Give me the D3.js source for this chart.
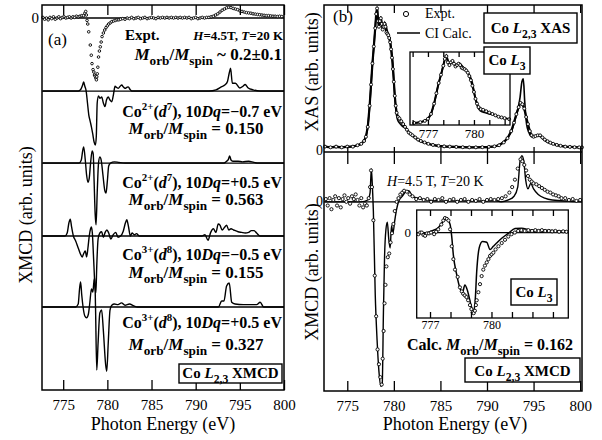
<!DOCTYPE html>
<html>
<head>
<meta charset="utf-8">
<script src="https://cdn.jsdelivr.net/npm/d3@7"></script>
<style>
  body { margin: 0; background: #fff; }
  svg, svg text { font-family: "Liberation Serif", Tinos, "Times New Roman", Times, "DejaVu Serif", serif !important; }
  svg text { fill: #000; white-space: pre; }
</style>
</head>
<body>
<div id="chart"></div>
<script>
// ---------- data (energy eV, intensity arb. units) ----------
const energyTicks = [775, 780, 785, 790, 795, 800];

// panel (a): experiment + four CI calculations (each on its own offset baseline)
const exptA = [
  [772.7,0.01],[772.9,-0.02],[773.1,0],[773.3,-0.03],[773.5,0.01],[773.7,-0.01],[773.9,0.02],[774.1,-0.02],
  [774.3,0],[774.5,0.02],[774.7,-0.01],[774.9,0.01],[775.1,0.02],[775.3,0],[775.5,0.01],[775.7,0.02],
  [775.9,0],[776.1,0.02],[776.3,0.01],[776.5,0.03],[776.7,0.02],[776.9,0.03],[777.1,0.04],[777.3,0.04],
  [777.45,0.08],[777.55,0.11],[777.62,0.05],[777.7,-0.04],[777.78,-0.1],[777.89,-0.23],[778.07,-0.45],
  [778.18,-0.62],[778.26,-0.76],[778.38,-0.86],[778.47,-0.9],[778.55,-0.95],[778.62,-0.97],[778.7,-1.0],
  [778.76,-1.03],[778.8,-0.98],[778.86,-0.93],[778.92,-0.82],[779.0,-0.65],[779.1,-0.55],[779.2,-0.48],
  [779.3,-0.4],[779.4,-0.31],[779.55,-0.25],[779.7,-0.2],[779.85,-0.16],[780.0,-0.13],[780.15,-0.1],
  [780.33,-0.08],[780.5,-0.06],[780.7,-0.05],[780.9,-0.04],[781.1,-0.03],[781.3,-0.03],[781.5,-0.02],
  [781.75,-0.01],[782.0,-0.02],[782.25,0],[782.5,-0.01],[782.75,0.01],[783.0,-0.01],[783.25,0],[783.5,0.01],
  [783.75,-0.01],[784.0,0],[784.25,0.01],[784.5,-0.01],[784.75,0],[785.0,0.01],[785.25,0],[785.5,-0.01],
  [785.75,0.01],[786.0,0],[786.25,0.01],[786.5,0],[786.75,0.01],[787.0,0],[787.25,0.01],[787.5,0],
  [787.75,0.01],[788.0,0],[788.25,0.01],[788.5,0],[788.75,0.01],[789.0,0],[789.25,0.01],[789.5,-0.01],
  [789.75,0],[790.0,0.01],[790.25,-0.01],[790.5,0],[790.75,0.01],[791.0,0],[791.25,0.01],[791.5,0.01],
  [791.75,0.02],[792.0,0.03],[792.25,0.05],[792.5,0.07],[792.75,0.1],[793.0,0.13],[793.25,0.15],
  [793.5,0.17],[793.75,0.18],[794.0,0.175],[794.25,0.16],[794.5,0.15],[794.75,0.14],[795.0,0.12],
  [795.25,0.11],[795.5,0.1],[795.75,0.09],[796.0,0.085],[796.25,0.08],[796.5,0.07],[796.75,0.065],
  [797.0,0.06],[797.25,0.055],[797.5,0.05],[797.75,0.045],[798.0,0.04],[798.25,0.04],[798.5,0.035],
  [798.75,0.03],[799.0,0.03],[799.25,0.025],[799.5,0.03],[799.75,0.025]
];
const calcA1 = [
  [772.7,0],[776.7,0],[777.0,0.03],[777.2,0.1],[777.32,0.15],[777.45,0.08],[777.6,0],[777.75,-0.2],
  [777.9,-0.4],[778.05,-0.5],[778.2,-0.6],[778.35,-0.72],[778.5,-0.85],[778.65,-0.9],[778.75,-0.75],
  [778.85,-0.2],[779.0,-0.08],[779.15,-0.12],[779.36,-0.1],[779.55,-0.2],[779.73,-0.26],[779.9,-0.15],
  [780.1,-0.1],[780.3,-0.15],[780.5,-0.18],[780.7,-0.05],[780.87,0.08],[781.05,0.06],[781.24,0.045],
  [781.45,0.08],[781.63,0.1],[781.8,0.07],[782.0,0.045],[782.2,0.06],[782.37,0.07],[782.55,0.03],
  [782.76,0],[791.5,0],[792.3,0.02],[792.9,0.07],[793.3,0.1],[793.6,0.16],[793.8,0.3],[793.95,0.38],
  [794.15,0.13],[794.5,0.13],[795.0,0.05],[795.35,0.08],[795.6,0.11],[795.95,0.05],[796.5,0.02],
  [797.3,0],[800,0]
];
const calcA2 = [
  [772.7,0],[776.8,0],[777.05,0.05],[777.2,0.2],[777.32,0.27],[777.5,0.05],[777.65,-0.2],[777.8,-0.32],
  [777.95,-0.25],[778.1,0],[778.28,0.2],[778.4,0.15],[778.5,-0.3],[778.62,-0.85],[778.72,-1.03],
  [778.85,-0.5],[779.0,0],[779.15,0.1],[779.3,0.05],[779.5,-0.2],[779.7,-0.45],[779.85,-0.5],[780.0,-0.3],
  [780.15,-0.05],[780.35,0],[780.8,0.02],[781.3,0.01],[782,0],[793.2,0],[793.5,0.03],[793.7,0.06],
  [793.85,0.12],[794.0,0.05],[794.2,0.03],[794.8,0.03],[795.3,0.02],[796.0,0.03],[796.6,0.01],[797.2,0],[800,0]
];
const calcA3 = [
  [772.7,0],[775.2,0],[775.45,0.05],[775.65,0.22],[775.8,0.28],[775.95,0.15],[776.15,0],[776.4,-0.08],
  [776.7,-0.2],[776.95,-0.3],[777.15,-0.35],[777.3,-0.3],[777.5,-0.25],[777.65,-0.35],[777.8,-0.2],
  [777.95,0],[778.1,0.12],[778.2,0.15],[778.3,0.05],[778.45,-0.4],[778.6,-0.85],[778.7,-0.95],[778.8,-0.5],
  [778.95,-0.05],[779.15,0.05],[779.35,0.07],[779.55,-0.02],[779.75,0.06],[779.95,0.1],[780.15,0.05],
  [780.4,-0.05],[780.65,0.02],[780.95,0.06],[781.2,-0.02],[781.5,0],[781.8,0.08],[782.05,0.22],
  [782.2,0.27],[782.4,0.15],[782.6,0],[782.8,0.05],[783.05,0.02],[783.3,0.04],[783.6,0],[790.7,0],
  [791.05,0.02],[791.4,-0.07],[791.7,0.06],[792.0,0.12],[792.3,0.06],[792.55,0.2],[792.75,0.18],
  [793.0,0.1],[793.25,0.14],[793.5,0.18],[793.75,0.1],[794.0,0.12],[794.3,0.1],[794.8,0.07],[795.2,0.06],
  [795.6,0.05],[796.0,0.06],[796.3,0.09],[796.6,0.09],[796.9,0.05],[797.3,0],[800,0]
];
const calcA4 = [
  [772.7,0],[776.4,0],[776.7,0.05],[776.85,0.3],[776.97,0.42],[777.1,0.2],[777.25,0],[777.45,-0.15],
  [777.65,-0.18],[777.85,-0.12],[778.0,0.05],[778.2,0.3],[778.35,0.25],[778.5,0.45],[778.58,0.48],
  [778.66,0],[778.8,-1.05],[778.95,-0.6],[779.15,-0.1],[779.35,-0.05],[779.55,-0.4],[779.8,-0.95],
  [779.93,-1.07],[780.1,-0.6],[780.3,-0.05],[780.5,0.03],[780.8,0.05],[781.2,0.04],[781.6,0.07],
  [782.0,0.03],[782.5,0.05],[783.0,0.02],[783.4,0],[792.57,0],[792.95,0.1],[793.2,0.1],[793.5,0.35],
  [793.8,0.4],[794.08,0.08],[794.46,0.05],[795.4,0.04],[796.9,0.04],[797.3,0.08],[797.7,0],[800,0]
];
const offsetsA = [0, -1.217, -2.417, -3.633, -4.817];

// panel (b) top: XAS
const xasCalc = [
  [772.6,0.01],[773.5,0.005],[774.5,0.005],[775.5,0.01],[776.0,0.015],[776.5,0.03],[777.0,0.08],
  [777.25,0.18],[777.45,0.34],[777.65,0.55],[777.9,0.76],[778.05,0.9],[778.2,1.0],[778.4,0.87],
  [778.6,0.93],[778.8,0.85],[779.05,0.89],[779.3,0.83],[779.5,0.79],[779.7,0.72],[779.9,0.6],
  [780.05,0.42],[780.2,0.28],[780.4,0.2],[780.7,0.17],[781.0,0.15],[781.3,0.14],[781.7,0.1],[782.1,0.08],
  [782.6,0.055],[783.3,0.035],[784.2,0.02],[785.5,0.01],[787.0,0.005],[788.5,0.005],[790.0,0.005],
  [791.0,0.015],[791.7,0.04],[792.3,0.08],[792.7,0.13],[793.0,0.2],[793.3,0.27],[793.55,0.36],
  [793.75,0.47],[793.9,0.49],[794.05,0.33],[794.25,0.17],[794.5,0.11],[794.8,0.08],[795.1,0.08],
  [795.4,0.09],[795.7,0.085],[796.0,0.065],[796.4,0.045],[797.0,0.03],[797.8,0.015],[798.7,0.008],
  [799.5,0.005],[800.2,0.005]
];
const xasExpt = [
  [772.6,0.01],[773.2,0.005],[773.8,0.01],[774.4,0.005],[775.0,0.01],[775.6,0.01],[776.1,0.02],[776.5,0.03],
  [776.8,0.05],[777.0,0.08],[777.2,0.15],[777.4,0.3],[777.55,0.45],[777.7,0.6],[777.85,0.72],[778.0,0.85],
  [778.1,0.95],[778.2,0.99],[778.3,0.9],[778.4,0.86],[778.5,0.9],[778.6,0.92],[778.7,0.88],[778.8,0.84],
  [778.9,0.86],[779.0,0.88],[779.1,0.86],[779.2,0.82],[779.3,0.81],[779.4,0.8],[779.5,0.78],[779.6,0.75],
  [779.7,0.7],[779.8,0.64],[779.9,0.56],[780.0,0.47],[780.1,0.37],[780.2,0.3],[780.3,0.25],[780.45,0.22],
  [780.6,0.21],[780.8,0.19],[781.0,0.17],[781.2,0.15],[781.4,0.13],[781.6,0.11],[781.8,0.1],[782.0,0.09],
  [782.3,0.075],[782.6,0.06],[782.9,0.05],[783.3,0.04],[783.7,0.03],[784.2,0.022],[784.8,0.016],
  [785.4,0.012],[786.0,0.01],[786.7,0.008],[787.4,0.006],[788.1,0.005],[788.8,0.005],[789.5,0.006],
  [790.2,0.008],[790.8,0.012],[791.3,0.02],[791.8,0.04],[792.2,0.07],[792.6,0.12],[792.9,0.18],
  [793.15,0.24],[793.4,0.29],[793.6,0.32],[793.8,0.31],[794.0,0.28],[794.2,0.22],[794.4,0.17],
  [794.6,0.12],[794.8,0.09],[795.0,0.08],[795.2,0.085],[795.45,0.09],[795.7,0.09],[795.95,0.075],
  [796.2,0.06],[796.5,0.048],[796.8,0.038],[797.1,0.03],[797.5,0.022],[797.9,0.016],[798.4,0.01],
  [798.9,0.008],[799.4,0.006],[799.9,0.005],[800.2,0.005]
];

// panel (b) bottom: XMCD
const mcdCalc = [
  [772.6,0],[776.5,0],[777.2,0.01],[777.45,0.05],[777.58,0.18],[777.68,0.1],[777.8,-0.05],[778.0,-0.5],
  [778.2,-0.75],[778.4,-0.92],[778.6,-1.0],[778.75,-0.99],[778.88,-0.6],[779.0,-0.3],[779.15,-0.15],
  [779.3,-0.11],[779.45,-0.2],[779.6,-0.25],[779.75,-0.13],[779.9,-0.17],[780.1,-0.1],[780.3,-0.04],
  [780.5,0],[780.9,0.03],[781.3,0.055],[781.6,0.06],[782.0,0.03],[783,0.015],[785,0.005],[788,0.005],
  [791,0.005],[791.5,0],[792.3,0.01],[792.9,0.03],[793.3,0.08],[793.55,0.22],[793.75,0.25],[793.95,0.22],
  [794.15,0.12],[794.4,0.07],[794.7,0.1],[795.0,0.07],[795.5,0.04],[796.2,0.02],[797,0.01],[800.2,0]
];
const mcdExpt = [
  [772.7,0.015],[772.9,-0.02],[773.1,0.02],[773.3,-0.04],[773.5,0.01],[773.7,0.03],[773.9,-0.02],[774.1,0.02],
  [774.3,-0.03],[774.5,0.015],[774.7,0.035],[774.9,0],[775.1,0.02],[775.3,-0.01],[775.5,0.03],[775.7,0.015],
  [775.9,0.04],[776.1,0.01],[776.3,-0.02],[776.5,0.02],[776.7,-0.03],[776.9,-0.01],[777.1,-0.02],
  [777.3,0.02],[777.45,0.08],[777.55,0.17],[777.65,0.08],[777.8,-0.1],[777.95,-0.4],[778.1,-0.62],
  [778.25,-0.8],[778.4,-0.88],[778.55,-0.95],[778.7,-0.99],[778.8,-0.85],[778.9,-0.7],[779.0,-0.55],
  [779.1,-0.45],[779.2,-0.35],[779.35,-0.3],[779.5,-0.28],[779.65,-0.22],[779.8,-0.17],[779.95,-0.12],
  [780.1,-0.05],[780.3,0],[780.5,0.02],[780.7,0.04],[780.9,0.05],[781.1,0.06],[781.4,0.055],[781.7,0.04],
  [782.0,0.03],[782.4,0.015],[782.8,0.02],[783.2,0.01],[783.6,0.015],[784.0,0],[784.4,0.015],[784.8,0.01],
  [785.2,0.02],[785.6,0],[786.0,0.01],[786.4,0.015],[786.8,0],[787.2,0.01],[787.6,0.015],[788.0,0],
  [788.4,0.01],[788.8,0.005],[789.2,0.015],[789.6,0],[790.0,0.01],[790.4,0.015],[790.8,0.01],[791.2,0.015],
  [791.6,0.02],[792.0,0.03],[792.4,0.05],[792.7,0.08],[793.0,0.12],[793.3,0.18],[793.6,0.23],[793.8,0.22],
  [794.0,0.2],[794.2,0.17],[794.4,0.14],[794.6,0.12],[794.8,0.11],[795.0,0.1],[795.3,0.095],[795.6,0.085],
  [795.9,0.075],[796.2,0.065],[796.5,0.055],[796.8,0.05],[797.1,0.04],[797.4,0.035],[797.7,0.03],
  [798.0,0.02],[798.4,0.02],[798.8,0.01],[799.2,0.015],[799.6,0.005],[800.0,0.01]
];

// insets (Co L3 region)
const insetXasTicks = [776, 777, 778, 779, 780, 781, 782];
const insetXasLabels = [777, 780];
const insetMcdTicks = [777, 778, 779, 780, 781, 782, 783];
const insetMcdLabels = [777, 780];
const insetMcdCalc = [
  [776.43,-0.01],[776.76,-0.01],[777.08,0.02],[777.4,0.06],[777.65,0.14],[777.81,0.17],[777.98,0.1],
  [778.06,-0.05],[778.14,-0.28],[778.3,-0.52],[778.46,-0.69],[778.58,-0.75],[778.7,-0.65],[778.84,-0.73],
  [779.0,-0.9],[779.11,-0.98],[779.2,-0.86],[779.28,-0.48],[779.4,-0.19],[779.56,-0.11],[779.77,-0.12],
  [779.93,-0.21],[780.09,-0.17],[780.25,-0.13],[780.5,-0.07],[780.82,-0.01],[781.15,0.05],[781.47,0.055],
  [781.96,0.03],[782.6,0.03],[783.25,0.02],[783.66,0.02]
];
const insetMcdExpt = [
  [776.43,-0.02],[776.52,0],[776.6,0],[776.68,-0.03],[776.76,-0.04],[776.85,-0.01],[776.95,-0.01],
  [777.05,0],[777.2,-0.02],[777.3,0.01],[777.4,0.04],[777.55,0.1],[777.65,0.15],[777.73,0.18],
  [777.82,0.17],[777.9,0.15],[777.98,0.04],[778.06,-0.17],[778.14,-0.33],[778.22,-0.46],[778.35,-0.55],
  [778.46,-0.68],[778.55,-0.73],[778.62,-0.76],[778.7,-0.78],[778.78,-0.8],[778.86,-0.84],[778.95,-0.9],
  [779.02,-0.95],[779.08,-0.99],[779.13,-1.0],[779.19,-0.97],[779.24,-0.9],[779.28,-0.84],[779.36,-0.74],
  [779.44,-0.64],[779.52,-0.54],[779.6,-0.46],[779.68,-0.41],[779.77,-0.37],[779.85,-0.33],[779.93,-0.29],
  [780.01,-0.27],[780.09,-0.25],[780.2,-0.21],[780.34,-0.17],[780.5,-0.13],[780.66,-0.09],[780.82,-0.05],
  [780.98,-0.02],[781.14,0],[781.3,0.02],[781.46,0.03],[781.62,0.02],[781.8,0.03],[781.98,0.02],
  [782.14,0.03],[782.3,0.02],[782.46,0.03],[782.62,0.02],[782.8,0.02],[782.96,0.015],[783.12,0.02],
  [783.3,0.01],[783.5,0.015],[783.66,0.01]
];

// ---------- drawing ----------
const FONT = '"Liberation Serif", Tinos, "Times New Roman", Times, "DejaVu Serif", serif';
const svg = d3.select("#chart").append("svg").attr("width", 602).attr("height", 440)
  .attr("font-family", FONT);

function rich(g, x, y, parts, o) {
  const t = g.append("text").attr("x", x).attr("y", y).attr("font-family", FONT)
    .attr("font-size", o.size).attr("font-weight", o.bold ? "bold" : "normal")
    .attr("text-anchor", o.anchor || "start");
  let cur = 0;
  parts.forEach(([s, f = ""]) => {
    let off = 0, fs = o.size;
    if (f.includes("_")) { off = o.size * 0.3; fs = o.size * 0.78; }
    if (f.includes("^")) { off = -o.size * 0.42; fs = o.size * 0.68; }
    t.append("tspan").attr("dy", off - cur).attr("font-size", fs)
      .attr("font-style", f.includes("i") ? "italic" : null).text(s);
    cur = off;
  });
  return t;
}

function frame(g, x0, y0, x1, y1, w) {
  g.append("rect").attr("x", x0).attr("y", y0).attr("width", x1 - x0).attr("height", y1 - y0)
    .attr("fill", "none").attr("stroke", "#000").attr("stroke-width", w || 1.5);
}

function ticks(g, scale, y, len, vals, labels, fsize, pad) {
  const ax = (len < 0 ? d3.axisBottom(scale) : d3.axisTop(scale))
    .tickValues(vals).tickSizeInner(-Math.abs(len)).tickSizeOuter(0).tickPadding(pad || 6)
    .tickFormat(d => labels && labels.includes(d) ? d : "");
  const a = g.append("g").attr("transform", `translate(0,${y})`).call(ax);
  a.attr("font-family", FONT);
  a.select(".domain").remove();
  a.selectAll(".tick line").attr("stroke", "#000").attr("stroke-width", 1.3);
  a.selectAll(".tick text").attr("font-size", fsize || 15).attr("fill", "#000");
  return a;
}

function boxLabel(g, x0, y0, x1, y1, parts, size, ty) {
  g.append("rect").attr("x", x0).attr("y", y0).attr("width", x1 - x0).attr("height", y1 - y0)
    .attr("fill", "#fff").attr("stroke", "#000").attr("stroke-width", 1.4);
  rich(g, (x0 + x1) / 2, ty, parts, { size: size, bold: true, anchor: "middle" });
}

function plain(g, x, y, s, size, anchor) {
  return g.append("text").attr("x", x).attr("y", y).attr("font-family", FONT)
    .attr("font-size", size).attr("text-anchor", anchor || "start").text(s);
}

const sepCalc = (nm) => [["M", "i"], ["orb", "_"], ["/"], ["M", "i"], ["spin", "_"], [nm]];

// ===== panel (a) =====
const xA = d3.scaleLinear().domain([772.6, 800]).range([42, 284]);
const yA = d3.scaleLinear().domain([-6.2, 0.217]).range([390, 5]);
const gA = svg.append("g");

offsetsA.forEach(o => {
  gA.append("line").attr("x1", 42).attr("x2", 284).attr("y1", yA(o)).attr("y2", yA(o))
    .attr("stroke", "#000").attr("stroke-width", 1.3);
});

[calcA1, calcA2, calcA3, calcA4].forEach((c, i) => {
  const off = offsetsA[i + 1];
  gA.append("path").datum(c)
    .attr("d", d3.line().x(d => xA(d[0])).y(d => yA(d[1] + off)).curve(d3.curveMonotoneX))
    .attr("fill", "none").attr("stroke", "#000").attr("stroke-width", 1.4);
});

gA.selectAll("circle.ea").data(exptA).enter().append("circle")
  .attr("cx", d => xA(d[0])).attr("cy", d => yA(d[1]))
  .attr("r", 1.3).attr("fill", "#fff").attr("stroke", "#000").attr("stroke-width", 0.9);

frame(gA, 42, 5, 284, 390);
ticks(gA, xA, 5, 10, energyTicks, null);
ticks(gA, xA, 390, -10, energyTicks, energyTicks, 15, 9);

plain(gA, 39, 23, "0", 15, "end");
plain(gA, 48, 45, "(a)", 17);
rich(gA, 125, 40, [["Expt."]], { size: 15, bold: true });
rich(gA, 283, 40, [["H", "i"], ["=4.5T, "], ["T", "i"], ["=20 K"]], { size: 13, bold: true, anchor: "end" });
rich(gA, 282, 60, sepCalc(" ~ 0.2±0.1"), { size: 17, bold: true, anchor: "end" });

const calcLabels = [
  [["Co"], ["2+", "^"], ["("], ["d", "i"], ["7", "^"], ["), 10"], ["Dq", "i"], ["=−0.7 eV"]],
  [["Co"], ["2+", "^"], ["("], ["d", "i"], ["7", "^"], ["), 10"], ["Dq", "i"], ["=+0.5 eV"]],
  [["Co"], ["3+", "^"], ["("], ["d", "i"], ["8", "^"], ["), 10"], ["Dq", "i"], ["=−0.5 eV"]],
  [["Co"], ["3+", "^"], ["("], ["d", "i"], ["8", "^"], ["), 10"], ["Dq", "i"], ["=+0.5 eV"]]
];
const ratioLabels = [" = 0.150", " = 0.563", " = 0.155", " = 0.327"];
const labelY = [[117, 134], [188, 205], [260, 278], [328, 350]];
calcLabels.forEach((p, i) => {
  rich(gA, 282, labelY[i][0], p, { size: 16, bold: true, anchor: "end" });
  rich(gA, 196, labelY[i][1], sepCalc(ratioLabels[i]), { size: 17, bold: true, anchor: "middle" });
});
boxLabel(gA, 179, 364, 282, 383, [["Co "], ["L", "i"], ["2,3", "_"], [" XMCD"]], 15, 378);

gA.append("text").attr("transform", "translate(32,215) rotate(-90)").attr("text-anchor", "middle")
  .attr("font-family", FONT).attr("font-size", 18).text("XMCD (arb. units)");
plain(gA, 163, 430, "Photon Energy (eV)", 18, "middle");

// ===== panel (b) =====
const xB = d3.scaleLinear().domain([772.5, 800.2]).range([324, 582]);
const yX = d3.scaleLinear().domain([-0.028, 1.014]).range([152, 5]);
const yM = d3.scaleLinear().domain([-1.025, 0.27]).range([391, 152]);
const gB = svg.append("g");

// XAS
gB.append("path").datum(xasExpt)
  .attr("d", d3.line().x(d => xB(d[0])).y(d => yX(d[1])))
  .attr("fill", "none").attr("stroke", "#000").attr("stroke-width", 2.2);
gB.append("path").datum(xasCalc)
  .attr("d", d3.line().x(d => xB(d[0])).y(d => yX(d[1])).curve(d3.curveMonotoneX))
  .attr("fill", "none").attr("stroke", "#000").attr("stroke-width", 1.6);
gB.selectAll("circle.xe").data(xasExpt).enter().append("circle")
  .attr("cx", d => xB(d[0])).attr("cy", d => yX(d[1]))
  .attr("r", 1.5).attr("fill", "#fff").attr("stroke", "#000").attr("stroke-width", 0.9);

// XMCD
gB.append("line").attr("x1", 324).attr("x2", 582).attr("y1", yM(0)).attr("y2", yM(0))
  .attr("stroke", "#000").attr("stroke-width", 1.3);
gB.append("path").datum(mcdCalc)
  .attr("d", d3.line().x(d => xB(d[0])).y(d => yM(d[1])).curve(d3.curveMonotoneX))
  .attr("fill", "none").attr("stroke", "#000").attr("stroke-width", 1.4);
gB.selectAll("circle.me").data(mcdExpt).enter().append("circle")
  .attr("cx", d => xB(d[0])).attr("cy", d => yM(d[1]))
  .attr("r", 1.6).attr("fill", "#fff").attr("stroke", "#000").attr("stroke-width", 0.9);

frame(gB, 324, 5, 582, 391);
gB.append("line").attr("x1", 324).attr("x2", 582).attr("y1", 152).attr("y2", 152)
  .attr("stroke", "#000").attr("stroke-width", 1.5);
ticks(gB, xB, 5, 8, energyTicks, null);
ticks(gB, xB, 152, -5, energyTicks, null);
ticks(gB, xB, 152, 12, energyTicks, null);
ticks(gB, xB, 391, -10, energyTicks, energyTicks, 15, 9);

plain(gB, 323, 155, "0", 14, "end");
plain(gB, 323, 206, "0", 14, "end");
plain(gB, 333, 22, "(b)", 17);

// legend
gB.append("circle").attr("cx", 406).attr("cy", 14).attr("r", 2.6)
  .attr("fill", "#fff").attr("stroke", "#000").attr("stroke-width", 1);
plain(gB, 425, 18, "Expt.", 14);
gB.append("line").attr("x1", 397).attr("x2", 420).attr("y1", 33).attr("y2", 33)
  .attr("stroke", "#000").attr("stroke-width", 1.5);
plain(gB, 425, 38, "CI Calc.", 14);

boxLabel(gB, 484, 13, 577, 43, [["Co "], ["L", "i"], ["2,3", "_"], [" XAS"]], 15, 33);

// XAS inset
const xI1 = d3.scaleLinear().domain([775.83, 782.35]).range([410, 510]);
const yI1 = d3.scaleLinear().domain([-0.01, 1.05]).range([125, 52]);
const gI1 = gB.append("g");
gI1.append("rect").attr("x", 410).attr("y", 52).attr("width", 100).attr("height", 73).attr("fill", "#fff");
const xasIn = d => d[0] >= 775.83 && d[0] <= 782.35;
gI1.append("path").datum(xasExpt.filter(xasIn))
  .attr("d", d3.line().x(d => xI1(d[0])).y(d => yI1(d[1])))
  .attr("fill", "none").attr("stroke", "#000").attr("stroke-width", 2);
gI1.append("path").datum(xasCalc.filter(xasIn))
  .attr("d", d3.line().x(d => xI1(d[0])).y(d => yI1(d[1])).curve(d3.curveMonotoneX))
  .attr("fill", "none").attr("stroke", "#000").attr("stroke-width", 1.6);
gI1.selectAll("circle").data(xasExpt.filter(xasIn)).enter().append("circle")
  .attr("cx", d => xI1(d[0])).attr("cy", d => yI1(d[1]))
  .attr("r", 1.5).attr("fill", "#fff").attr("stroke", "#000").attr("stroke-width", 0.9);
frame(gI1, 410, 52, 510, 125, 1.3);
ticks(gI1, xI1, 52, 5, insetXasTicks, null);
ticks(gI1, xI1, 125, -5, insetXasTicks, insetXasLabels, 13, 4);
boxLabel(gB, 484, 47, 530, 74, [["Co "], ["L", "i"], ["3", "_"]], 15, 65);

// XMCD panel texts
rich(gB, 387, 186, [["H", "i"], ["=4.5 T, "], ["T", "i"], ["=20 K"]], { size: 14 });

// XMCD inset
const xI2 = d3.scaleLinear().domain([776.35, 783.75]).range([416.7, 568.3]);
const yI2 = d3.scaleLinear().domain([-1.06, 0.28]).range([318, 210]);
const gI2 = gB.append("g");
gI2.append("rect").attr("x", 416.7).attr("y", 210).attr("width", 151.6).attr("height", 108).attr("fill", "#fff");
gI2.append("line").attr("x1", 416.7).attr("x2", 568.3).attr("y1", yI2(0)).attr("y2", yI2(0))
  .attr("stroke", "#000").attr("stroke-width", 1.3);
gI2.append("path").datum(insetMcdCalc)
  .attr("d", d3.line().x(d => xI2(d[0])).y(d => yI2(d[1])).curve(d3.curveMonotoneX))
  .attr("fill", "none").attr("stroke", "#000").attr("stroke-width", 1.5);
gI2.selectAll("circle").data(insetMcdExpt).enter().append("circle")
  .attr("cx", d => xI2(d[0])).attr("cy", d => yI2(d[1]))
  .attr("r", 1.6).attr("fill", "#fff").attr("stroke", "#000").attr("stroke-width", 0.9);
frame(gI2, 416.7, 210, 568.3, 318, 1.3);
ticks(gI2, xI2, 210, 6, insetMcdTicks, null);
ticks(gI2, xI2, 318, -6, insetMcdTicks, insetMcdLabels, 12, 2);
plain(gI2, 411, 237, "0", 13, "end");
boxLabel(gB, 511, 279, 557, 305, [["Co "], ["L", "i"], ["3", "_"]], 15, 297);

rich(gB, 490, 350, [["Calc. "], ...sepCalc(" = 0.162")], { size: 16, bold: true, anchor: "middle" });
boxLabel(gB, 465, 358, 580, 382, [["Co "], ["L", "i"], ["2,3", "_"], [" XMCD"]], 15, 376);

gB.append("text").attr("transform", "translate(318,72) rotate(-90)").attr("text-anchor", "middle")
  .attr("font-family", FONT).attr("font-size", 18).text("XAS (arb. units)");
gB.append("text").attr("transform", "translate(318,272) rotate(-90)").attr("text-anchor", "middle")
  .attr("font-family", FONT).attr("font-size", 18).text("XMCD (arb. units)");
plain(gB, 455, 430, "Photon Energy (eV)", 18, "middle");
</script>
</body>
</html>
